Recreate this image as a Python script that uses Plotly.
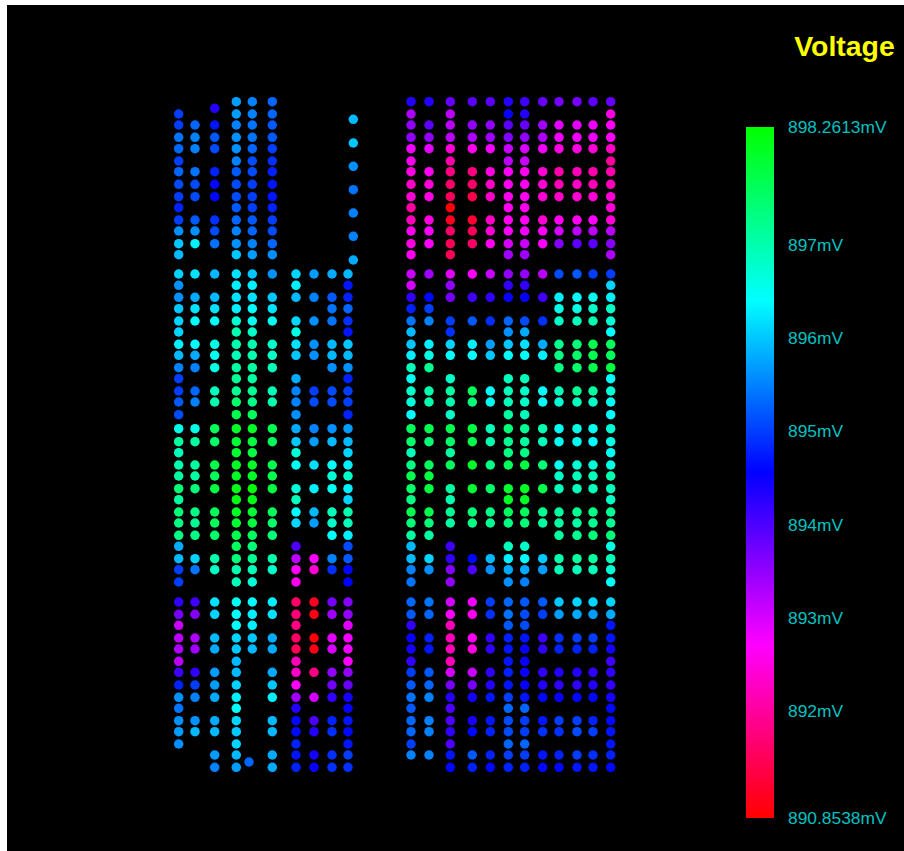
import plotly.graph_objects as go

_ = None
VMIN = 890.8538
VMAX = 898.2613

left_cols = [178.7, 195, 214.7, 236.3, 252.3, 272.3, 296, 314, 332, 348]
right_cols = [411, 429, 450.3, 472.3, 490.3, 508.3, 524.7, 542.7, 559, 577, 593, 610.7]

rows_a = [101.7, 114, 125, 137.3, 148.7, 161, 171.7, 184.3, 196.7, 207.7, 220, 231, 243.7, 254.7]
rows_b = [274, 285.3, 297.3, 308.7, 321, 332, 344.3, 355.3, 367.7, 378.7, 391, 402, 414.7, 428.7]
rows_c = [441.7, 452.7, 465, 476, 488.7, 499.7, 512, 523, 535.3, 546.3, 558.7, 569.7, 582]
rows_d = [602, 614.3, 625.3, 638, 649, 661.3, 672.3, 685, 697.3, 708.3, 720.7, 731.7, 744, 755, 767.3]

left_a = [
    [_, _, _, 895.7, 895.5, 895.3, _, _, _, _],
    [895.0, _, _, 895.7, 895.5, 895.3, _, _, _, _],
    [895.0, 895.3, 894.7, 895.5, 895.4, 895.2, _, _, _, _],
    [895.4, 895.5, 895.2, 895.6, 895.4, 895.2, _, _, _, _],
    [895.3, 895.5, 895.1, 895.6, 895.3, 895.0, _, _, _, _],
    [895.0, _, _, 895.5, 895.1, 894.9, _, _, _, _],
    [895.3, 895.4, 894.8, 895.2, 895.1, 894.8, _, _, _, _],
    [895.1, 895.1, 894.6, 895.1, 895.0, 894.7, _, _, _, _],
    [895.0, 895.1, 894.6, 895.1, 895.0, 894.7, _, _, _, _],
    [894.8, _, _, 895.2, 895.0, 894.8, _, _, _, _],
    [895.0, 895.2, 894.9, 895.3, 895.2, 895.0, _, _, _, _],
    [895.6, 895.6, 895.1, 895.5, 895.3, 895.1, _, _, _, _],
    [896.0, 896.3, 895.4, 895.6, 895.5, 895.3, _, _, _, _],
    [895.9, _, _, 896.0, 895.7, 895.6, _, _, _, _],
]
left_b = [
    [896.1, 896.2, 895.9, 896.2, 896.0, 895.6, 896.1, 895.7, 895.8, 895.9],
    [895.6, _, _, 896.3, 896.3, _, 896.3, _, _, 894.7],
    [895.6, 895.8, 895.9, 896.2, 896.2, 896.0, 895.9, 895.5, 895.2, 894.8],
    [896.0, 896.2, 896.2, 896.3, 896.4, 896.2, _, _, 895.4, 895.3],
    [896.1, 896.4, 896.4, 896.7, 896.5, 896.5, 896.1, 895.6, 895.4, 894.9],
    [896.1, _, _, 897.0, 896.8, _, 896.6, _, _, 894.7],
    [896.3, 896.4, 896.6, 897.0, 897.0, 896.8, 896.2, 895.6, 895.9, 896.0],
    [895.9, 895.8, 896.5, 896.9, 897.0, 896.8, 896.0, 895.6, 895.9, 895.9],
    [895.5, 895.5, 896.6, 897.1, 897.1, 896.9, _, _, 895.6, 895.6],
    [895.0, _, _, 897.2, 897.1, _, 895.8, _, _, 894.8],
    [895.0, 895.3, 896.9, 897.2, 897.2, 896.9, 895.5, 895.0, 895.1, 895.0],
    [895.2, 895.5, 897.0, 897.5, 897.3, 897.0, 895.5, 895.1, 895.1, 895.0],
    [895.1, _, _, 897.7, 897.6, _, 895.6, _, _, 894.8],
    [896.6, 896.6, 897.6, 898.0, 898.0, 897.7, 895.8, 895.5, 895.6, 895.7],
]
left_c = [
    [897.1, 897.1, 897.5, 897.9, 897.8, 897.6, 896.0, 895.7, 895.9, 895.9],
    [896.9, _, _, 897.9, 897.8, _, 896.7, _, _, 896.1],
    [897.0, 897.1, 897.7, 898.0, 898.0, 897.7, 896.5, 896.2, 896.4, 896.3],
    [897.1, 897.1, 897.6, 898.0, 898.0, 897.7, _, _, 896.7, 896.8],
    [897.4, 897.4, 897.8, 898.1, 898.2, 897.8, 896.7, 896.3, 896.5, 896.3],
    [897.1, _, _, 898.1, 898.1, _, 896.9, _, _, 896.1],
    [897.4, 897.3, 897.6, 898.0, 897.9, 897.6, 896.4, 895.9, 896.9, 897.0],
    [897.3, 897.2, 897.6, 897.9, 897.8, 897.5, 896.1, 895.7, 896.8, 896.9],
    [897.3, 897.3, 897.5, 897.7, 897.6, 897.4, _, _, 896.4, 896.3],
    [895.8, _, _, 897.6, 897.4, _, 894.0, _, _, 895.1],
    [895.9, 896.1, 897.0, 897.4, 897.2, 897.0, 893.2, 892.7, 895.5, 895.2],
    [895.0, 895.4, 896.8, 897.0, 896.9, 896.8, 892.7, 892.4, 894.9, 894.6],
    [895.0, _, _, 896.9, 896.7, _, 892.6, _, _, 894.55],
]
left_d = [
    [894.2, 894.1, 896.2, 896.5, 896.4, 896.3, 891.6, 891.1, 893.7, 893.6],
    [893.7, 893.6, 896.1, 896.4, 896.3, 896.2, 891.7, 891.0, 893.4, 893.5],
    [893.1, _, _, 896.4, 896.3, _, 891.8, _, _, 892.9],
    [893.2, 893.3, 895.9, 896.1, 896.0, 895.8, 891.6, 890.9, 892.9, 892.8],
    [893.3, 893.4, 895.8, 896.0, 895.9, 895.8, 891.5, 891.0, 893.0, 892.8],
    [893.2, _, _, 895.9, _, _, 892.2, _, _, 892.7],
    [894.1, 894.2, 895.7, 895.9, _, 895.8, 892.3, 891.8, 893.5, 893.5],
    [894.8, 895.0, 895.7, 896.1, _, 896.0, 892.7, _, 893.7, 893.8],
    [895.6, 895.5, 895.8, 896.3, _, 896.3, 893.4, 893.0, 894.2, 894.4],
    [895.4, _, _, 896.4, _, _, 894.3, _, _, 894.5],
    [895.6, 895.6, 895.8, 896.1, _, 895.9, 894.6, 894.0, 894.8, 894.7],
    [895.7, 895.9, 895.9, 896.0, _, 895.9, 894.6, 894.3, 894.9, 894.6],
    [895.6, _, _, 896.1, _, _, 894.8, _, _, 894.7],
    [_, _, 895.7, 895.9, _, 895.8, 894.7, 894.4, 894.9, 895.0],
    [_, _, 895.5, 895.7, _, 895.8, 894.8, 894.5, 894.9, 894.9],
]
right_a = [
    [894.3, 894.3, 893.8, 893.9, 893.9, 894.3, 894.1, 893.8, 893.7, 893.7, 893.9, 893.8],
    [893.3, _, 893.2, _, _, 894.5, 894.3, _, _, _, _, 892.5],
    [893.5, 893.9, 893.2, 893.5, 893.5, 893.9, 893.8, 893.4, 892.9, 892.9, 892.8, 892.7],
    [893.5, 893.5, 893.2, 893.3, 893.4, 893.6, 893.5, 893.3, 892.8, 892.8, 892.8, 892.7],
    [892.8, 892.9, 892.4, 892.6, 892.8, 893.1, 893.0, 892.8, 892.5, 892.5, 892.4, 892.3],
    [892.6, _, 892.1, _, _, 893.2, 893.1, _, _, _, _, 892.0],
    [892.5, 892.6, 891.8, 891.8, 892.5, 892.7, 892.6, 892.4, 892.1, 892.2, 892.1, 892.1],
    [892.3, 892.4, 891.6, 891.6, 892.3, 892.6, 892.6, 892.4, 892.2, 892.3, 892.2, 892.2],
    [892.4, 892.5, 891.5, 891.4, 892.3, 892.6, 892.6, 892.4, 892.3, 892.4, 892.4, 892.4],
    [892.0, _, 890.9, _, _, 892.6, 892.6, _, _, _, _, 892.4],
    [892.2, 892.5, 891.1, 891.2, 892.3, 892.6, 892.6, 892.4, 892.6, 892.6, 892.7, 892.4],
    [892.6, 892.7, 891.6, 891.5, 892.4, 892.7, 892.8, 892.7, 893.0, 893.2, 893.2, 893.2],
    [892.5, 892.7, 891.5, 891.6, 892.6, 893.0, 893.1, 892.7, 893.6, 893.9, 893.9, 893.6],
    [892.6, _, 891.5, _, _, 893.4, 893.4, _, _, _, _, 893.3],
]
right_b = [
    [893.1, 893.4, 892.9, 892.7, 893.1, 893.5, 893.5, 893.2, 895.1, 895.2, 895.0, 895.0],
    [893.0, _, 893.5, _, _, 894.2, 894.2, _, _, _, _, 896.1],
    [894.2, 894.6, 893.7, 894.1, 894.2, 894.5, 894.5, 894.1, 896.3, 896.4, 896.5, 896.3],
    [894.8, 895.0, _, _, _, _, _, _, 896.6, 896.6, 896.8, 896.8],
    [895.4, 895.5, 895.0, 895.2, 894.9, 895.3, 895.1, 894.9, 896.8, 896.9, 897.0, 896.7],
    [895.9, _, 894.9, _, _, 895.6, 895.8, _, _, _, _, 896.4],
    [896.0, 896.3, 896.1, 896.3, 895.7, 896.0, 896.2, 895.8, 897.2, 897.4, 897.7, 897.6],
    [896.3, 896.6, 896.4, 896.4, 896.0, 896.4, 896.5, 896.3, 897.3, 897.5, 897.7, 897.6],
    [896.9, 897.2, _, _, _, _, _, _, 897.3, 897.5, 897.7, 897.8],
    [896.5, _, 896.8, _, _, 896.9, 896.9, _, _, _, _, 896.4],
    [896.8, 897.0, 897.1, 897.6, 896.4, 896.9, 896.8, 896.4, 896.9, 897.2, 897.1, 896.7],
    [896.7, 897.0, 897.0, 897.4, 896.5, 896.9, 896.8, 896.4, 896.7, 896.9, 896.8, 896.5],
    [896.4, _, 896.8, _, _, 897.1, 896.9, _, _, _, _, 896.4],
    [897.6, 897.7, 897.7, 897.8, 896.9, 897.4, 897.2, 897.0, 896.5, 896.6, 896.5, 896.7],
]
right_c = [
    [897.5, 897.4, 897.5, 897.7, 897.0, 897.2, 897.1, 896.9, 896.5, 896.5, 896.4, 896.6],
    [896.9, _, 897.1, _, _, 897.3, 897.3, _, _, _, _, 896.5],
    [897.3, 897.6, 897.6, 898.0, 897.3, 897.6, 897.8, 897.4, 896.5, 896.7, 896.7, 896.6],
    [897.7, 897.8, _, _, _, _, _, _, 896.8, 896.9, 896.9, 897.0],
    [897.5, 897.8, 897.1, 897.9, 897.5, 897.9, 898.0, 897.7, 896.9, 896.9, 896.9, 896.9],
    [897.3, _, 897.0, _, _, 898.0, 898.0, _, _, _, _, 896.8],
    [897.7, 897.7, 897.2, 897.4, 897.3, 897.6, 897.6, 897.2, 897.1, 897.2, 897.3, 897.2],
    [897.4, 897.4, 897.1, 897.3, 897.2, 897.3, 897.4, 897.1, 897.1, 897.1, 897.2, 897.2],
    [897.1, 897.1, _, _, _, _, _, _, 897.1, 897.2, 897.4, 897.4],
    [895.9, _, 894.1, _, _, 896.9, 896.8, _, _, _, _, 896.6],
    [895.9, 896.1, 894.2, 894.6, 895.9, 896.3, 896.4, 896.0, 897.0, 897.1, 897.1, 896.9],
    [895.5, 895.6, 893.6, 894.0, 895.6, 895.8, 895.8, 895.7, 896.9, 896.9, 896.9, 896.7],
    [895.4, _, 893.5, _, _, 895.6, 895.5, _, _, _, _, 896.4],
]
right_d = [
    [895.3, 895.4, 893.0, 892.8, 895.0, 895.3, 895.2, 895.2, 896.0, 896.1, 896.1, 896.1],
    [895.2, 895.3, 892.7, 892.6, 894.9, 895.4, 895.1, 895.0, 895.7, 895.8, 895.7, 895.8],
    [894.2, _, 892.2, _, _, 895.2, 895.1, _, _, _, _, 894.7],
    [894.5, 894.8, 892.2, 892.6, 894.2, 894.8, 894.7, 894.1, 894.9, 895.0, 895.0, 894.7],
    [894.4, 894.7, 892.2, 892.5, 894.2, 894.7, 894.5, 894.2, 894.8, 894.8, 894.8, 894.4],
    [894.2, _, 892.2, _, _, 894.7, 894.5, _, _, _, _, 894.1],
    [895.0, 895.2, 893.0, 893.1, 894.2, 894.8, 894.5, 894.2, 894.3, 894.3, 894.2, 894.2],
    [895.2, 895.3, 893.7, 893.7, 894.3, 894.7, 894.5, 894.3, 894.2, 894.2, 894.3, 894.2],
    [895.4, 895.5, 894.3, 894.4, 894.7, 895.0, 894.7, 894.6, 894.5, 894.6, 894.6, 894.4],
    [895.2, _, 894.0, _, _, 895.3, 895.3, _, _, _, _, 894.6],
    [895.3, 895.5, 894.0, 894.4, 894.7, 895.1, 895.0, 894.7, 895.0, 895.0, 894.8, 894.6],
    [895.3, 895.5, 894.2, 894.6, 894.8, 895.1, 895.0, 894.9, 894.9, 895.1, 895.0, 894.7],
    [895.0, _, 894.0, _, _, 895.3, 895.3, _, _, _, _, 894.7],
    [895.5, 895.5, 894.7, 895.2, 894.8, 895.0, 895.0, 894.7, 894.8, 895.0, 894.9, 894.8],
    [_, _, 894.6, 894.8, 894.6, 894.8, 894.8, 894.6, 894.6, 894.7, 894.7, 894.6],
]

extra_x = [214.7, 353.3, 353.3, 353.3, 353.3, 353.3, 353.3, 353.3, 249]
extra_y = [108.3, 119.3, 143, 166.3, 189.7, 213, 236.3, 260, 762]
extra_v = [894.3, 895.9, 896.0, 895.6, 895.4, 895.5, 895.5, 895.8, 895.3]

tick_vals = [890.8538, 892, 893, 894, 895, 896, 897, 898.2613]
tick_text = ["890.8538mV", "892mV", "893mV", "894mV", "895mV", "896mV", "897mV", "898.2613mV"]

xs, ys, vs = list(extra_x), list(extra_y), list(extra_v)
for cols, rows, grid in [
    (left_cols, rows_a, left_a), (left_cols, rows_b, left_b),
    (left_cols, rows_c, left_c), (left_cols, rows_d, left_d),
    (right_cols, rows_a, right_a), (right_cols, rows_b, right_b),
    (right_cols, rows_c, right_c), (right_cols, rows_d, right_d),
]:
    for y, row in zip(rows, grid):
        for x, v in zip(cols, row):
            if v is not None:
                xs.append(x)
                ys.append(y)
                vs.append(v)

scale = [[0, "#ff0000"], [0.25, "#ff00ff"], [0.5, "#0000ff"], [0.75, "#00ffff"], [1, "#00ff00"]]

PAGE_W = 904 - 7
PAGE_H = 851 - 5

fig = go.Figure(go.Scatter(
    x=xs, y=ys, mode="markers",
    marker=dict(
        size=9.5, color=vs, cmin=VMIN, cmax=VMAX, colorscale=scale, line=dict(width=0),
        colorbar=dict(
            xref="container", yref="container",
            x=(746 - 7) / PAGE_W, xanchor="left", xpad=0,
            y=1 - (127 - 5) / PAGE_H, yanchor="top", ypad=0,
            thickness=28, thicknessmode="pixels",
            len=691, lenmode="pixels",
            outlinewidth=0, borderwidth=0,
            tickmode="array", tickvals=tick_vals, ticktext=tick_text,
            ticks="outside", ticklen=11, tickcolor="#000000", tickwidth=1,
            tickfont=dict(family="Liberation Sans", size=17.4, color="#00c0c0"),
        ),
    ),
    hoverinfo="skip",
))

fig.update_layout(
    width=PAGE_W, height=PAGE_H, autosize=False,
    margin=dict(l=0, t=0, r=0, b=0, pad=0),
    paper_bgcolor="#000000", plot_bgcolor="#000000",
    showlegend=False,
    title=dict(
        text="<b>Voltage</b>", xref="container", yref="container",
        x=(844.5 - 7) / PAGE_W, y=1 - (46 - 5) / PAGE_H,
        xanchor="center", yanchor="middle",
        font=dict(family="Liberation Sans", size=28.4, color="#ffff00"),
    ),
    xaxis=dict(range=[7, 746], visible=False, fixedrange=True),
    yaxis=dict(range=[851, 5], visible=False, fixedrange=True),
)

fig.write_html(
    "out.html",
    config={"displayModeBar": False},
    post_script="document.body.style.margin='5px 0 0 7px';document.body.style.background='#ffffff';document.documentElement.style.overflow='hidden';",
)
